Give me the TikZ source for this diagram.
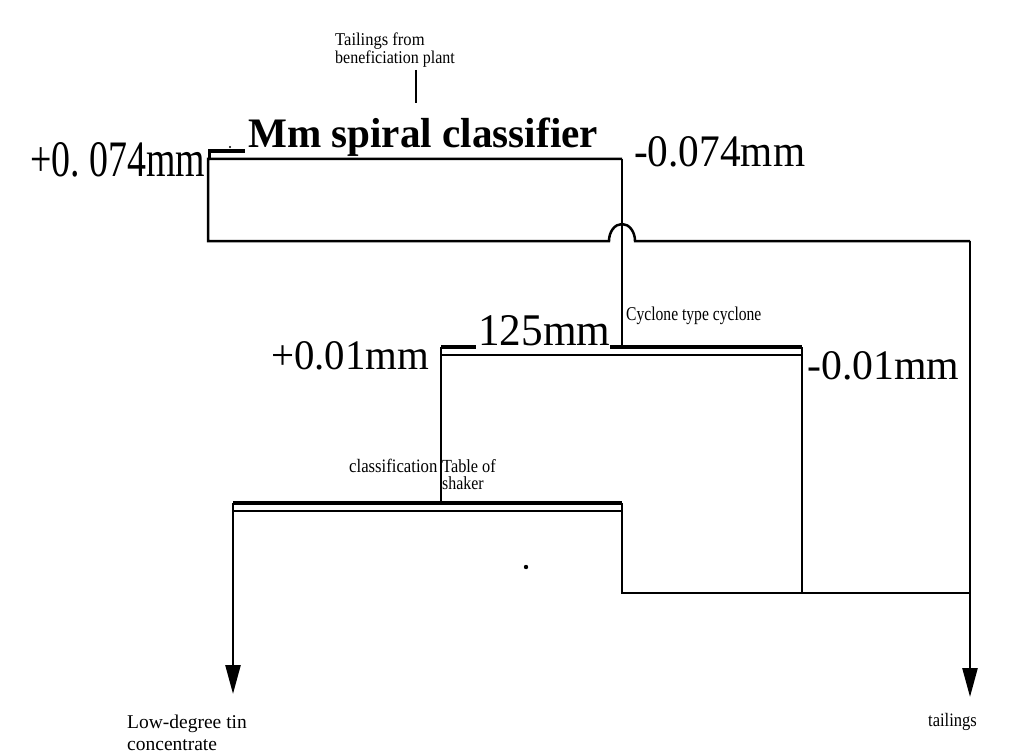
\documentclass[tikz,border=0pt]{standalone}
\usepackage{fontspec}
\setmainfont{Liberation Serif}
\usetikzlibrary{arrows.meta}
\begin{document}
\begin{tikzpicture}[x=1pt,y=-1pt,
  flow/.style={line width=2.5pt},
  ledge/.style={line width=3.8pt},
  small/.style={font=\fontsize{19}{20}\selectfont, inner sep=0pt, anchor=base west},
  big/.style={font=\fontsize{43}{46}\selectfont, inner sep=0pt, anchor=base west},
  arr/.style={-{Triangle[length=29pt,width=15pt]}}]
\useasboundingbox (0,0) rectangle (1024,754);

% labels
\node[small,font=\fontsize{18}{19}\selectfont] (feed1) at (335,46) {\scalebox{0.92}[1]{Tailings from}};
\node[small,font=\fontsize{18}{19}\selectfont] (feed2) at (335,64) {\scalebox{0.89}[1]{beneficiation plant}};
\node[big,font=\fontsize{42}{44}\selectfont\bfseries] (spiral) at (248,148) {\scalebox{0.98}[1]{Mm spiral classifier}};
\node[big] (plus074) at (30,177) {\resizebox{175pt}{34pt}{+0.\ 074mm}};
\node[big] (minus074) at (634,167) {\resizebox{171pt}{30pt}{-0.074mm}};
\node[small,font=\fontsize{19.5}{20}\selectfont] (cyclab) at (626,320) {\scalebox{0.8}[1]{Cyclone type cyclone}};
\node[big] (c125) at (478,345) {\resizebox{132pt}{30pt}{125mm}};
\node[big] (plus001) at (271,369) {\resizebox{158pt}{28pt}{+0.01mm}};
\node[big] (minus001) at (807,379) {\resizebox{152pt}{28pt}{-0.01mm}};
\node[small] (classif) at (349,472) {\scalebox{0.88}[1]{classification}};
\node[small,font=\fontsize{18.5}{19}\selectfont] (table1) at (442,472) {\scalebox{0.88}[1]{Table of}};
\node[small,font=\fontsize{18.5}{19}\selectfont] (table2) at (442,489) {\scalebox{0.86}[1]{shaker}};
\node[small,font=\fontsize{19.5}{20}\selectfont] (low1) at (127,728) {Low-degree tin};
\node[small,font=\fontsize{19.5}{20}\selectfont] (low2) at (127,750) {concentrate};
\node[small] (tail) at (928,726) {\scalebox{0.87}[1]{tailings}};

% key points
\coordinate (feedtop) at (416,70);
\coordinate (feedbot) at (416,103);
\coordinate (sTL) at (208,159);
\coordinate (sTR) at (622,159);
\coordinate (sBL) at (208,241);
\coordinate (hopL) at (609,241);
\coordinate (hopR) at (635,241);
\coordinate (tailC) at (970,241);
\coordinate (tailEnd) at (970,697);
\coordinate (cTopL) at (441,347);
\coordinate (cTopR) at (802,347);
\coordinate (cBotL) at (441,355);
\coordinate (cBotR) at (802,355);
\coordinate (cIn) at (622,347);
\coordinate (shTL) at (233,503);
\coordinate (shTR) at (622,503);
\coordinate (shBL) at (233,511);
\coordinate (shBR) at (622,511);
\coordinate (shIn) at (441,503);
\coordinate (bL) at (622,593);
\coordinate (bM) at (802,593);
\coordinate (bR) at (970,593);
\coordinate (concEnd) at (233,694);

% feed
\draw[flow] (feedtop) -- (feedbot);

% spiral classifier
\draw[ledge] (208,151) -- (245,151);
\draw[flow] (209.5,150) -- (209.5,159);
\draw[flow] (sTR) -- (sTL) -- (sBL) -- (hopL)
  arc[start angle=180, end angle=360, x radius=13, y radius=17] -- (tailC);
\draw[flow,arr] (tailC) -- (tailEnd);
\draw[flow] (sTR) -- (cIn);

% cyclone
\draw[ledge] (cTopL) -- (476,347);
\draw[line width=3.2pt] (610,347) -- (cTopR);
\draw[flow] (cBotL) -- (cBotR);
\draw[flow] (cTopL) -- (cBotL) -- (shIn);
\draw[flow] (cTopR) -- (bM);

% shaker table
\draw[line width=3.2pt] (shTL) -- (shTR);
\draw[flow] (shBL) -- (shBR);
\draw[flow] (shTR) -- (bL) -- (bM) -- (bR);
\draw[flow,arr] (shTL) -- (concEnd);

% dots
\fill (230,147) circle (1.2);
\fill (526,567) circle (2.2);
\end{tikzpicture}
\end{document}
